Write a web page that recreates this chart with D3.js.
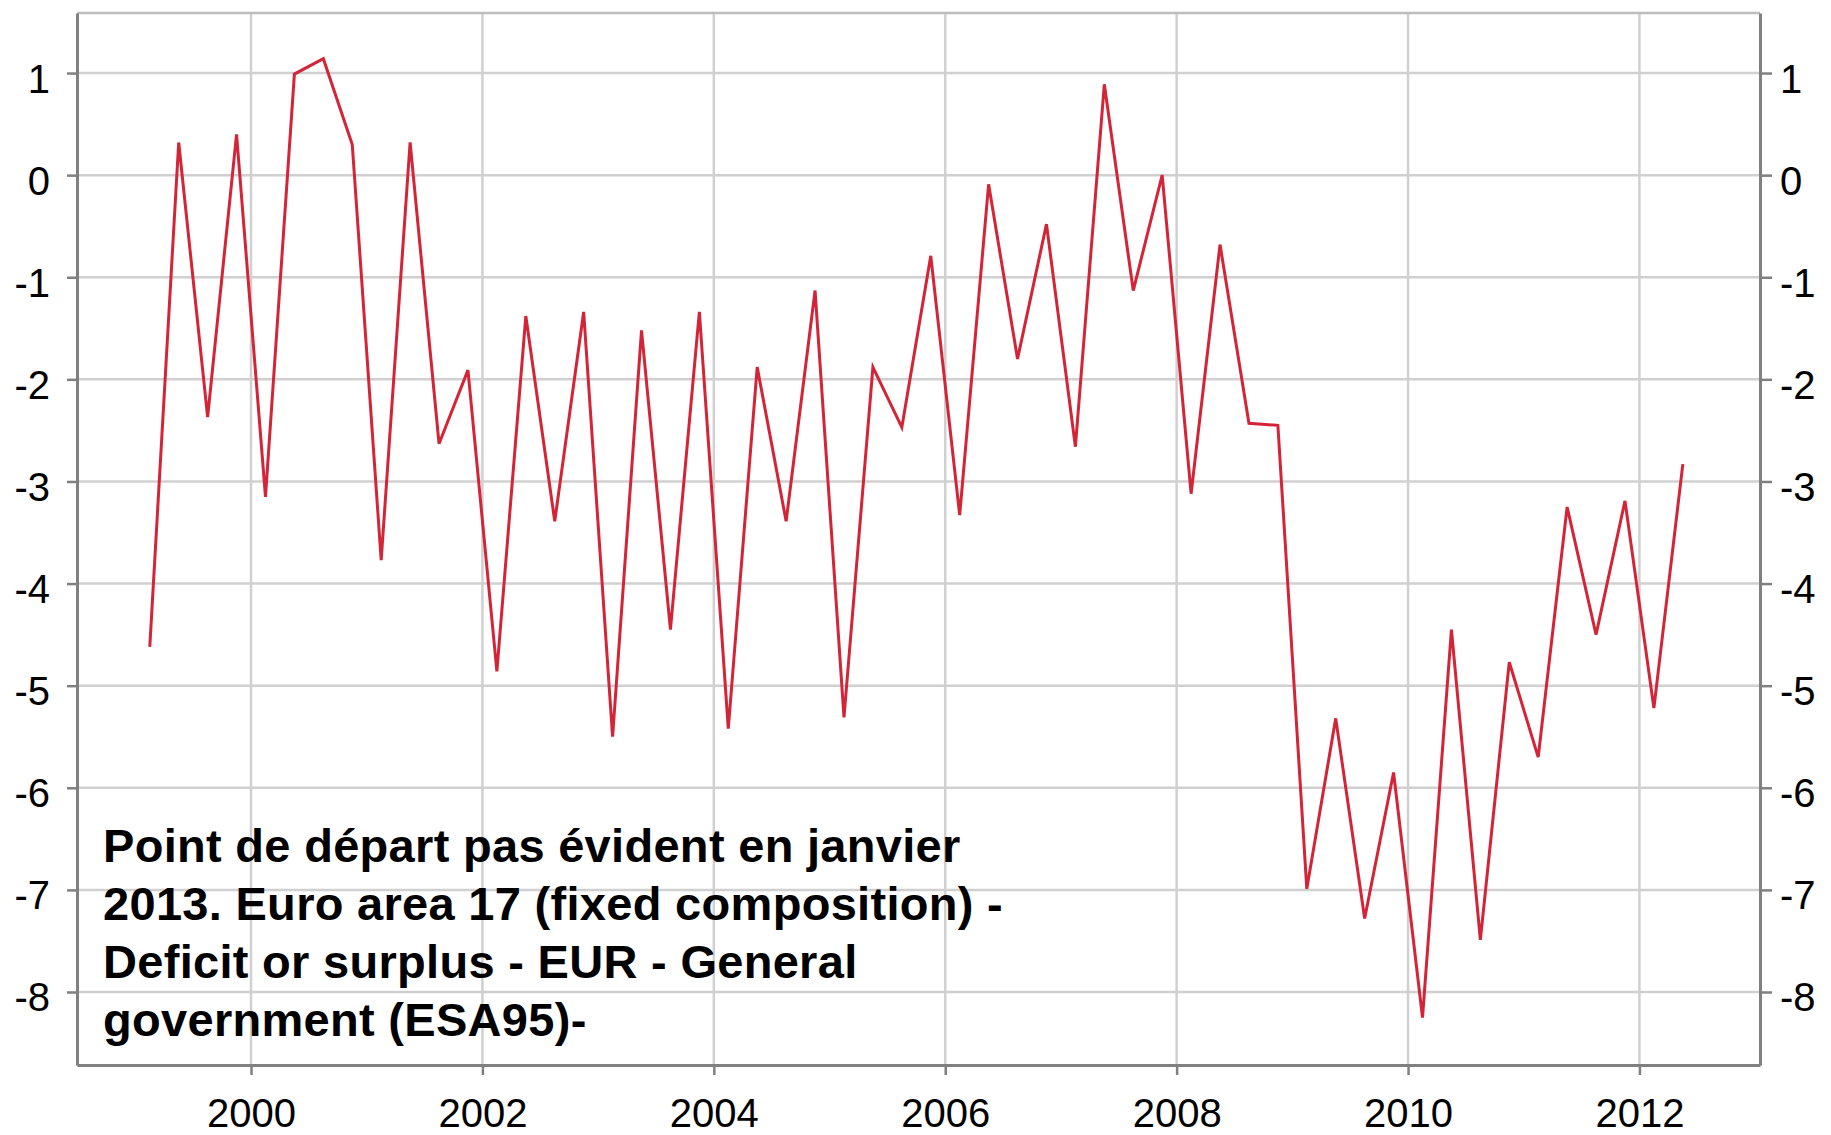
<!DOCTYPE html>
<html>
<head>
<meta charset="utf-8">
<script src="https://d3js.org/d3.v7.min.js"></script>
<style>
  html, body { margin: 0; padding: 0; background: #fff; }
  svg { display: block; }
  text { font-family: "Liberation Sans", Arial, sans-serif; fill: #000; }
</style>
</head>
<body>
<script>
'use strict';
// quarters of the series, one point per quarter
const quarters = [
  "1999Q1", "1999Q2", "1999Q3", "1999Q4",
  "2000Q1", "2000Q2", "2000Q3", "2000Q4",
  "2001Q1", "2001Q2", "2001Q3", "2001Q4",
  "2002Q1", "2002Q2", "2002Q3", "2002Q4",
  "2003Q1", "2003Q2", "2003Q3", "2003Q4",
  "2004Q1", "2004Q2", "2004Q3", "2004Q4",
  "2005Q1", "2005Q2", "2005Q3", "2005Q4",
  "2006Q1", "2006Q2", "2006Q3", "2006Q4",
  "2007Q1", "2007Q2", "2007Q3", "2007Q4",
  "2008Q1", "2008Q2", "2008Q3", "2008Q4",
  "2009Q1", "2009Q2", "2009Q3", "2009Q4",
  "2010Q1", "2010Q2", "2010Q3", "2010Q4",
  "2011Q1", "2011Q2", "2011Q3", "2011Q4",
  "2012Q1", "2012Q2"
];
// deficit (-) or surplus
const balance = [
  -4.62, 0.32, -2.37, 0.40,
  -3.15, 0.99, 1.14, 0.30,
  -3.77, 0.32, -2.63, -1.91,
  -4.86, -1.38, -3.39, -1.34,
  -5.50, -1.52, -4.45, -1.34,
  -5.42, -1.88, -3.39, -1.13,
  -5.31, -1.88, -2.47, -0.79,
  -3.33, -0.09, -1.80, -0.48,
  -2.66, 0.89, -1.13, 0.00,
  -3.12, -0.68, -2.43, -2.45,
  -6.99, -5.32, -7.28, -5.85,
  -8.25, -4.45, -7.49, -4.77,
  -5.70, -3.25, -4.50, -3.19,
  -5.22, -2.83
];
const xTicks = [2000, 2002, 2004, 2006, 2008, 2010, 2012];
const yTicks = [1, 0, -1, -2, -3, -4, -5, -6, -7, -8];
const titleLines = [
  "Point de départ pas évident en janvier",
  "2013. Euro area 17 (fixed composition) -",
  "Deficit or surplus - EUR - General",
  "government (ESA95)-"
];

(function() {
  let svgContainer = "";
  const plot = { left: 77, right: 1760, top: 13, bottom: 1065 };

  window.onload = function() {
    svgContainer = d3.select('body')
      .append('svg')
      .attr('width', 1831)
      .attr('height', 1135);

    let map = drawAxes();
    plotData(map);
    makeLabels();
  };

  // "2003Q2" -> middle of the quarter as a decimal year
  function quarterTime(q) {
    let year = +q.slice(0, 4);
    let n = +q.slice(5);
    return year + (n - 1) / 4 + 0.125;
  }

  function drawAxes() {
    let xScale = d3.scaleLinear()
      .domain([1998.496, 2013.042])
      .range([plot.left, plot.right]);

    let yScale = d3.scaleLinear()
      .domain([1.588, -8.715])
      .range([plot.top, plot.bottom]);

    // grid
    let grid = svgContainer.append('g')
      .attr('stroke', '#d0d0d0')
      .attr('stroke-width', 2.5);

    grid.selectAll('.vgrid')
      .data(xTicks)
      .enter()
      .append('line')
        .attr('x1', d => xScale(d))
        .attr('x2', d => xScale(d))
        .attr('y1', plot.top)
        .attr('y2', plot.bottom);

    grid.selectAll('.hgrid')
      .data(yTicks)
      .enter()
      .append('line')
        .attr('x1', plot.left)
        .attr('x2', plot.right)
        .attr('y1', d => yScale(d))
        .attr('y2', d => yScale(d));

    // top border is drawn light like the grid
    grid.append('line')
      .attr('stroke', '#bdbdbd')
      .attr('x1', plot.left)
      .attr('x2', plot.right)
      .attr('y1', plot.top)
      .attr('y2', plot.top);

    let xAxis = d3.axisBottom(xScale)
      .tickValues(xTicks)
      .tickSize(10)
      .tickSizeOuter(0)
      .tickFormat(d => String(d));
    let gx = svgContainer.append('g')
      .attr('transform', 'translate(0,' + plot.bottom + ')')
      .call(xAxis);
    gx.selectAll('text').attr('y', 62).attr('dy', 0);

    let yLeft = d3.axisLeft(yScale)
      .tickValues(yTicks)
      .tickSize(10)
      .tickSizeOuter(0)
      .tickFormat(d => String(d));
    let gl = svgContainer.append('g')
      .attr('transform', 'translate(' + plot.left + ',0)')
      .call(yLeft);
    gl.selectAll('text').attr('x', -27).attr('dy', 19);

    let yRight = d3.axisRight(yScale)
      .tickValues(yTicks)
      .tickSize(12)
      .tickSizeOuter(0)
      .tickFormat(d => String(d));
    let gr = svgContainer.append('g')
      .attr('transform', 'translate(' + plot.right + ',0)')
      .call(yRight);
    gr.selectAll('text').attr('x', 20).attr('dy', 19);

    [gx, gl, gr].forEach(g => {
      g.attr('font-size', 40).attr('font-family', '"Liberation Sans", Arial, sans-serif');
      g.select('.domain').attr('stroke', '#808080').attr('stroke-width', 3);
      g.selectAll('.tick line').attr('stroke', '#808080').attr('stroke-width', 2.5);
      g.selectAll('.tick text').attr('fill', '#000');
    });

    return {
      x: d => xScale(d.t),
      y: d => yScale(d.v),
      xScale: xScale,
      yScale: yScale
    };
  }

  function plotData(map) {
    let rows = quarters.map((q, i) => ({ t: quarterTime(q), v: balance[i] }));

    let line = d3.line()
      .x(map.x)
      .y(map.y);

    svgContainer.append('path')
      .datum(rows)
      .attr('d', line)
      .attr('fill', 'none')
      .attr('stroke', '#d42538')
      .attr('stroke-width', 3)
      .attr('stroke-linejoin', 'miter');
  }

  // bold note in the lower left corner
  function makeLabels() {
    svgContainer.append('g')
      .selectAll('text')
      .data(titleLines)
      .enter()
      .append('text')
        .attr('x', 103)
        .attr('y', (d, i) => 862 + i * 58)
        .style('font-size', '47px')
        .style('letter-spacing', '0.3px')
        .style('font-weight', 'bold')
        .text(d => d);
  }
})();
</script>
</body>
</html>
